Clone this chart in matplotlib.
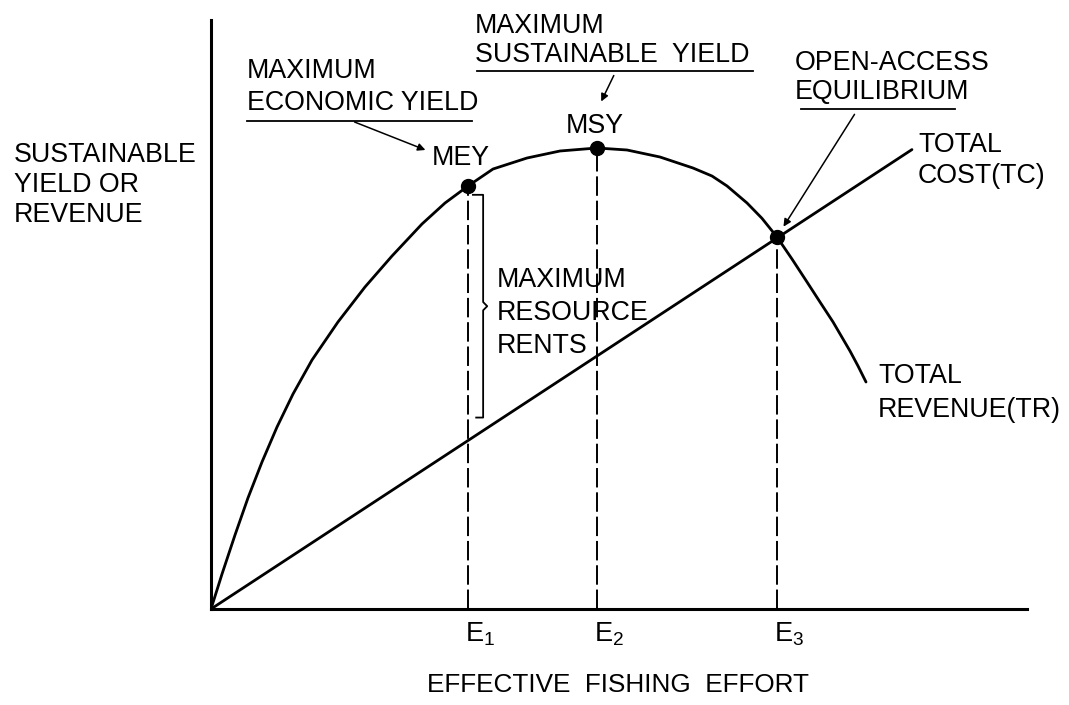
import matplotlib
matplotlib.use("Agg")
import matplotlib.pyplot as plt
from matplotlib.lines import Line2D
from matplotlib.patches import FancyArrowPatch

# --- данные (усилие 0-100, доход 0-100) ---
effort_tr = [0, 1.35, 2.94, 4.53, 6.25, 8.09, 10.05, 12.38, 15.56, 18.87, 22.18, 25.86,
             28.68, 31.50, 34.56, 38.73, 42.77, 47.30, 50.98, 55.02, 59.07, 61.40, 63.24,
             65.69, 67.52, 69.36, 71.20, 73.04, 74.63, 76.23, 78.31, 79.29, 80.27]
revenue_tr = [0, 5.94, 12.56, 18.85, 24.96, 30.90, 36.50, 42.28, 48.73, 54.67, 59.93, 65.37,
              68.93, 71.82, 74.70, 76.57, 77.76, 78.27, 77.93, 76.74, 74.87, 73.51, 71.82,
              68.93, 66.33, 63.16, 59.42, 55.52, 52.12, 48.73, 43.80, 41.26, 38.54]
effort_tc = [0, 85.9]
cost_tc = [0, 78.0]

point_names = ["MEY", "MSY", "OAE"]
point_effort = [31.50, 47.30, 69.36]
point_value = [71.82, 78.27, 63.16]
tick_labels = [r"E$_{\mathregular{1}}$", r"E$_{\mathregular{2}}$", r"E$_{\mathregular{3}}$"]

W, H = 1069, 705
FONT = ["Liberation Sans", "DejaVu Sans"]
FS = 19.3


def fx(x):
    return x / W


def fy(y):
    return 1 - y / H


def label(lines, x, y0, step, size=FS, ha="left"):
    """пишем многострочную подпись по строкам, y0 - базовая линия первой строки (px)"""
    for i, s in enumerate(lines):
        fig.text(fx(x), fy(y0 + i * step), s, fontsize=size, ha=ha, va="baseline",
                 family=FONT, color="black")


def hline(x0, x1, y, lw=1.3):
    fig.add_artist(Line2D([fx(x0), fx(x1)], [fy(y), fy(y)], lw=lw, color="black",
                          transform=fig.transFigure))


def arrow(x0, y0, x1, y1):
    fig.add_artist(FancyArrowPatch(
        (fx(x0), fy(y0)), (fx(x1), fy(y1)), transform=fig.transFigure,
        arrowstyle="-|>", mutation_scale=11, lw=1.1, color="black"))


fig = plt.figure(figsize=(W / 100, H / 100), dpi=100)
ax = fig.add_axes([211 / W, (H - 609) / H, 816 / W, 589 / H])
ax.set_xlim(0, 100)
ax.set_ylim(0, 100)
for side in ["top", "right"]:
    ax.spines[side].set_visible(False)
for side in ["left", "bottom"]:
    ax.spines[side].set_linewidth(2.2)
ax.set_xticks([])
ax.set_yticks([])

# кривые TR и TC
ax.plot(effort_tr, revenue_tr, color="black", lw=2.0, solid_capstyle="round",
        solid_joinstyle="round")
ax.plot(effort_tc, cost_tc, color="black", lw=2.0, solid_capstyle="round")

# пунктирные вертикали и точки
for e, v in zip(point_effort, point_value):
    ax.plot([e, e], [0, v], color="black", lw=1.4, linestyle=(0, (10, 2.5)))
ax.plot(point_effort, point_value, "o", color="black", markersize=10)

# фигурная скобка (ренты) между MEY и TC
e1 = point_effort[0]
bx = e1 + 1.85
top, bot = point_value[0] - 1.5, cost_tc[1] / effort_tc[1] * e1 + 3.9
mid = (top + bot) / 2
ax.plot([e1 + 0.6, bx, bx, bx + 0.5, bx, bx, e1 + 1.0],
        [top, top, mid + 0.7, mid, mid - 0.7, bot, bot],
        color="black", lw=1.3)

# подписи
label(["SUSTAINABLE", "YIELD OR", "REVENUE"], 14, 162, 30)
label(["MAXIMUM", "ECONOMIC YIELD"], 247, 78, 32)
hline(247, 472, 121)
arrow(352, 121, 428, 151)
label(["MEY"], 432, 165, 0)

label(["MAXIMUM", "SUSTAINABLE  YIELD"], 475, 33, 29)
hline(477, 753, 71)
arrow(615, 73, 600, 104)
label(["MSY"], 595, 133, 0, ha="center")

label(["OPEN-ACCESS", "EQUILIBRIUM"], 795, 70, 29)
hline(801, 955, 109)
arrow(856, 112, 782, 229)

label(["TOTAL", "COST(TC)"], 918, 152, 31)
label(["TOTAL", "REVENUE(TR)"], 878, 383, 34)
label(["MAXIMUM", "RESOURCE", "RENTS"], 497, 287, 33)

# подписи оси X
for e, t in zip(point_effort, tick_labels):
    ax.text(e - 0.4, -5.6, t, fontsize=19.5, ha="left", va="baseline", family=FONT,
            transform=ax.transData, clip_on=False)
label(["EFFECTIVE  FISHING  EFFORT"], 618, 692, 0, size=18.8, ha="center")

fig.savefig("out.png", dpi=100)
